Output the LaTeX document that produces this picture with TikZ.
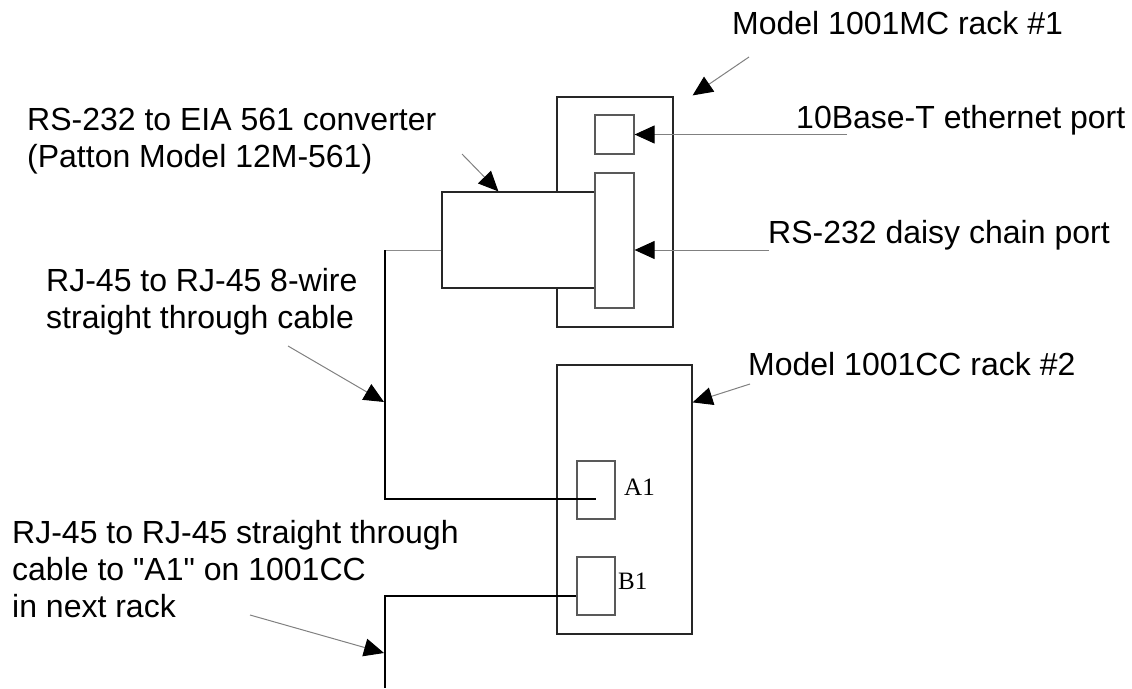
\documentclass[tikz,border=0pt]{standalone}
\usepackage{fontspec}
\newfontfamily\notefont{Liberation Sans}
\newfontfamily\portfont{Liberation Serif}
\usetikzlibrary{arrows.meta, positioning, calc}

\begin{document}
\begin{tikzpicture}[
    x=1pt, y=-1pt,
    box/.style={rectangle, draw=black!85, fill=white, inner sep=0pt, line width=1.2pt},
    port/.style={rectangle, draw=black!65, fill=white, inner sep=0pt, line width=1.2pt},
    note/.style={anchor=base west, inner sep=0pt, align=left, font=\notefont\fontsize{32}{37}\selectfont},
    portnote/.style={anchor=base west, inner sep=0pt, font=\portfont\fontsize{25}{28}\selectfont},
    cable/.style={line width=1.5pt},
    link/.style={draw=black!45, line width=1pt},
    pointer/.style={draw=black!50, line width=1pt, -{Triangle[length=20pt, width=18pt, color=black]}}
]
\useasboundingbox (0,0) rectangle (1132,688);

% rack 1 with converter
\node[box, minimum width=116pt, minimum height=230pt] (rone) at (615,212) {};
\node[box, minimum width=153pt, minimum height=96pt] (conv) at (518.5,240) {};
\node[port, minimum width=39pt, minimum height=135pt] (daisy) at (614.5,240.5) {};
\node[port, minimum width=39pt, minimum height=39pt] (eth) at (614.5,134.5) {};

% rack 2
\node[box, minimum width=135pt, minimum height=269pt] (rtwo) at (624.5,499.5) {};
\node[port, minimum width=38pt, minimum height=58pt] (aone) at (596,490) {};
\node[port, minimum width=38pt, minimum height=58pt] (bone) at (596,586) {};
\node[portnote] (aonetext) at (624,495) {A1};
\node[portnote] (bonetext) at (618,589) {B1};

% labels (multi-line ones sit on their last line)
\node[note] (ronetext) at (732,34) {Model 1001MC rack \#1};
\node[note] (ethtext) at (796,128) {10Base-T ethernet port};
\node[note] (daisytext) at (768,243) {RS-232 daisy chain port};
\node[note] (convtext) at (27,167) {RS-232 to EIA 561 converter\\(Patton Model 12M-561)};
\node[note] (cabletext) at (46,328) {RJ-45 to RJ-45 8-wire\\straight through cable};
\node[note] (rtwotext) at (748,375) {Model 1001CC rack \#2};
\node[note] (nexttext) at (12,617) {RJ-45 to RJ-45 straight through\\cable to "A1" on 1001CC\\in next rack};

% cables
\coordinate (convout) at ($(conv.west)+(0,10)$);
\coordinate (bendone) at (385,250);
\coordinate (bendtwo) at (385,499);
\coordinate (bendthree) at (385,596);
\coordinate (cableend) at (385,688);
\draw[link] (convout) -- (bendone);
\draw[cable] (bendone) -- (bendtwo) -- (aone.center |- bendtwo);
\draw[cable] (bone.west |- bendthree) -- (bendthree) -- (cableend);

% pointers
\coordinate (ronetail) at (749,57);
\coordinate (ethtail) at (847,134.5);
\coordinate (daisytail) at (769,250);
\coordinate (convtail) at (462,154);
\coordinate (cabletail) at (288,346);
\coordinate (rtwotail) at (750,384);
\coordinate (nexttail) at (250,615);
\draw[pointer] (ronetail) -- ($(rone.north east)+(19,-1)$);
\draw[pointer] (ethtail) -- (eth.east);
\draw[pointer] (daisytail) -- ($(daisy.east)+(0,9.5)$);
\draw[pointer] (convtail) -- ($(conv.north west)+(57,0)$);
\draw[pointer] (cabletail) -- (384,402);
\draw[pointer] (rtwotail) -- ($(rtwo.north east)+(0,38)$);
\draw[pointer] (nexttail) -- (384,653);
\end{tikzpicture}
\end{document}
